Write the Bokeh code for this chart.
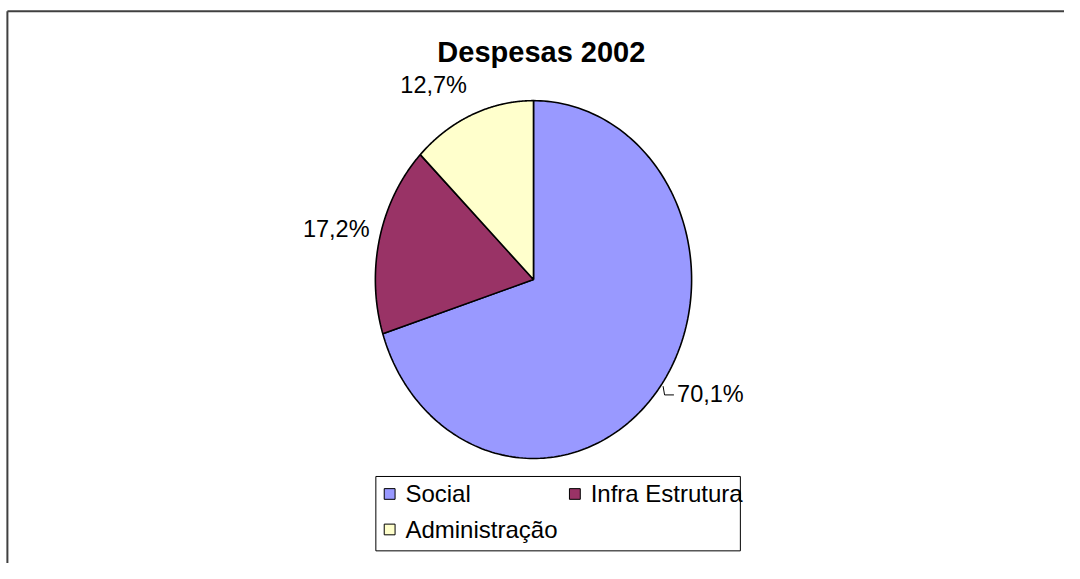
import numpy as np
from bokeh.plotting import figure
from bokeh.models import Range1d
from bokeh.core.properties import value
from bokeh.embed import file_html
from bokeh.resources import INLINE

# ---- data ----
categories = ["Social", "Infra Estrutura", "Administração"]
shares = [70.1, 17.2, 12.7]
label_texts = ["70,1%", "17,2%", "12,7%"]
title_text = "Despesas 2002"

# ---- style / layout ----
colors = ["#9999FF", "#993366", "#FFFFCC"]
FONT = "Liberation Sans"
CX, CY, RX, RY = 541, 287, 160.5, 184
label_offsets = [(50, 9), (-44, -10), (-39, -31)]

p = figure(width=1064, height=563, output_backend="svg", toolbar_location=None,
           x_axis_type=None, y_axis_type=None,
           x_range=Range1d(0, 1080), y_range=Range1d(579, 0),
           min_border=0, min_border_left=0, min_border_right=0,
           min_border_top=0, min_border_bottom=0)
p.outline_line_color = None
p.grid.visible = False
p.background_fill_color = "white"

# outer chart border (top & left visible)
p.line([7, 1080], [11, 11], line_color="#404040", line_width=2)
p.line([7, 7], [11, 579], line_color="#404040", line_width=2)

# ---- pie slices (ellipse, clockwise from 12 o'clock) ----
total = sum(shares)
start = 90.0
xs, ys, mids = [], [], []
for s in shares:
    sweep = 360.0 * s / total
    end = start - sweep
    t = np.radians(np.linspace(start, end, 200))
    px = [CX] + list(CX + RX * np.cos(t)) + [CX]
    py = [CY] + list(CY - RY * np.sin(t)) + [CY]
    xs.append(px)
    ys.append(py)
    mids.append(np.radians((start + end) / 2))
    start = end

p.patches(xs, ys, fill_color=colors, line_color="black", line_width=1.6)

# ---- data labels ----
lx, ly = [], []
for m, (dx, dy) in zip(mids, label_offsets):
    ex = CX + RX * np.cos(m)
    ey = CY - RY * np.sin(m)
    lx.append(ex + dx)
    ly.append(ey + dy)
    if dx > 30:  # leader line for the big slice
        p.line([ex + 2, ex + 3.5, lx[-1] - 37], [ey + 1, ly[-1] + 1, ly[-1] + 1],
               line_color="black", line_width=1)

p.text(x=lx, y=ly, text=label_texts, text_align="center", text_baseline="middle",
       text_font=value(FONT), text_font_size="23.5px", text_color="black")

# ---- title ----
p.text(x=[549], y=[53], text=[title_text], text_align="center", text_baseline="middle",
       text_font=value(FONT), text_font_size="29px", text_font_style="bold",
       text_color="black")

# ---- legend (drawn) ----
p.quad(left=[381], right=[751], top=[489.5], bottom=[566], fill_color="white",
       line_color="black", line_width=1)
leg_x = [395, 583, 395]
leg_y = [507.5, 507.5, 544]
p.rect(x=leg_x, y=leg_y, width=11, height=11, fill_color=colors,
       line_color="black", line_width=1)
p.text(x=[x + 16 for x in leg_x], y=leg_y, text=categories, text_align="left",
       text_baseline="middle", text_font=value(FONT), text_font_size="24px",
       text_color="black")

open("out.html", "w").write(file_html(p, INLINE))
